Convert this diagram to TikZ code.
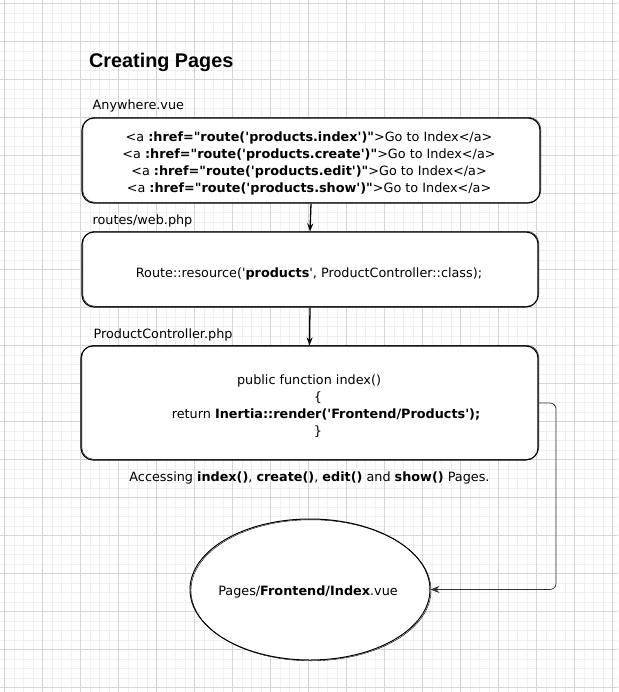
\documentclass[tikz,border=0pt]{standalone}
\usepackage{fontspec}
\setmainfont{DejaVu Sans}[Ligatures=TeXOff]
\newfontfamily\titlefont{Liberation Sans}
\usetikzlibrary{arrows.meta,positioning,shapes.geometric}

\tikzset{
  minorgrid/.style={draw=black!6, line width=0.6pt},
  majorgrid/.style={draw=black!16, line width=0.8pt},
  codebox/.style={draw, line width=1.1pt, rounded corners=12pt, fill=white,
    postaction={draw, line width=0.4pt, transform canvas={shift={(0.8pt,0.7pt)}}}},
  pagebox/.style={ellipse, draw, line width=1pt, fill=white,
    postaction={draw, line width=0.4pt, transform canvas={shift={(1pt,-0.8pt)}}}},
  codetext/.style={inner sep=0pt, align=center, font=\fontsize{12.8}{17}\selectfont},
  lbl/.style={inner sep=0pt, font=\fontsize{12.8}{17}\selectfont},
  title/.style={inner sep=0pt, font=\fontsize{19.8}{24}\titlefont\bfseries},
  flow/.style={line width=1.3pt, -{Stealth[length=8pt,width=6pt]}},
  link/.style={draw=black!80, line width=0.7pt, rounded corners=6pt, -{Stealth[length=9pt,width=7pt,inset=3pt]}}
}

\begin{document}
\begin{tikzpicture}[x=1pt, y=-1pt]
  \useasboundingbox (0,0) rectangle (618,692);
  \fill[white] (0,0) rectangle (618,692);
  \foreach \i in {0,...,64} \draw[minorgrid] ({4.3+9.5*\i},0) -- ({4.3+9.5*\i},692);
  \foreach \i in {0,...,72} \draw[minorgrid] (0,{3.6+9.5*\i}) -- (618,{3.6+9.5*\i});
  \foreach \i in {0,...,16} \draw[majorgrid] ({4.3+38*\i},0) -- ({4.3+38*\i},692);
  \foreach \i in {0,...,18} \draw[majorgrid] (0,{3.6+38*\i}) -- (618,{3.6+38*\i});

  \node[title, anchor=west] (ttl) at (89,62) {Creating Pages};

  \node[codebox, minimum width=458pt, minimum height=85pt] (src) at (311,160.5) {};
  \node[codetext] (srctxt) at (309,163)
    {<a \textbf{:href="route('products.index')"}>Go to Index</a>\\
     <a \textbf{:href="route('products.create')"}>Go to Index</a>\\
     <a \textbf{:href="route('products.edit')"}>Go to Index</a>\\
     <a \textbf{:href="route('products.show')"}>Go to Index</a>};
  \node[lbl, above right=5pt and 11pt of src.north west] (srcl) {Anywhere.vue};

  \node[codebox, minimum width=456pt, minimum height=75pt] (web) at (310,269.5) {};
  \node[codetext] (webtxt) at (309,274)
    {Route::resource('\textbf{products}', ProductController::class);};
  \node[lbl, above right=4pt and 11pt of web.north west] (webl) {routes/web.php};

  \node[codebox, minimum width=457pt, minimum height=114pt] (ctl) at (309.5,403) {};
  \node[codetext] (ctltxt) at (318,406)
    {\hspace*{-18pt}public function index()\\
     \{\\
     \hspace*{16pt}return \textbf{Inertia::render('Frontend/Products');}\\
     \}};
  \node[lbl, above right=4pt and 13pt of ctl.north west] (ctll) {ProductController.php};
  \node[lbl, below=11pt of ctl] (note)
    {Accessing \textbf{index()}, \textbf{create()}, \textbf{edit()} and \textbf{show()} Pages.};

  \node[pagebox, minimum width=240pt, minimum height=141pt] (pg) at (310,589.5) {};
  \node[codetext] (pgtxt) at (308,592) {Pages/\textbf{Frontend/Index}.vue};

  \coordinate (turn) at (556,403);
  \draw[flow] (src.south) -- (web.north);
  \draw[flow] (web.south) -- (ctl.north);
  \draw[link] (ctl.east) -- (turn) |- (pg.east);
\end{tikzpicture}
\end{document}
